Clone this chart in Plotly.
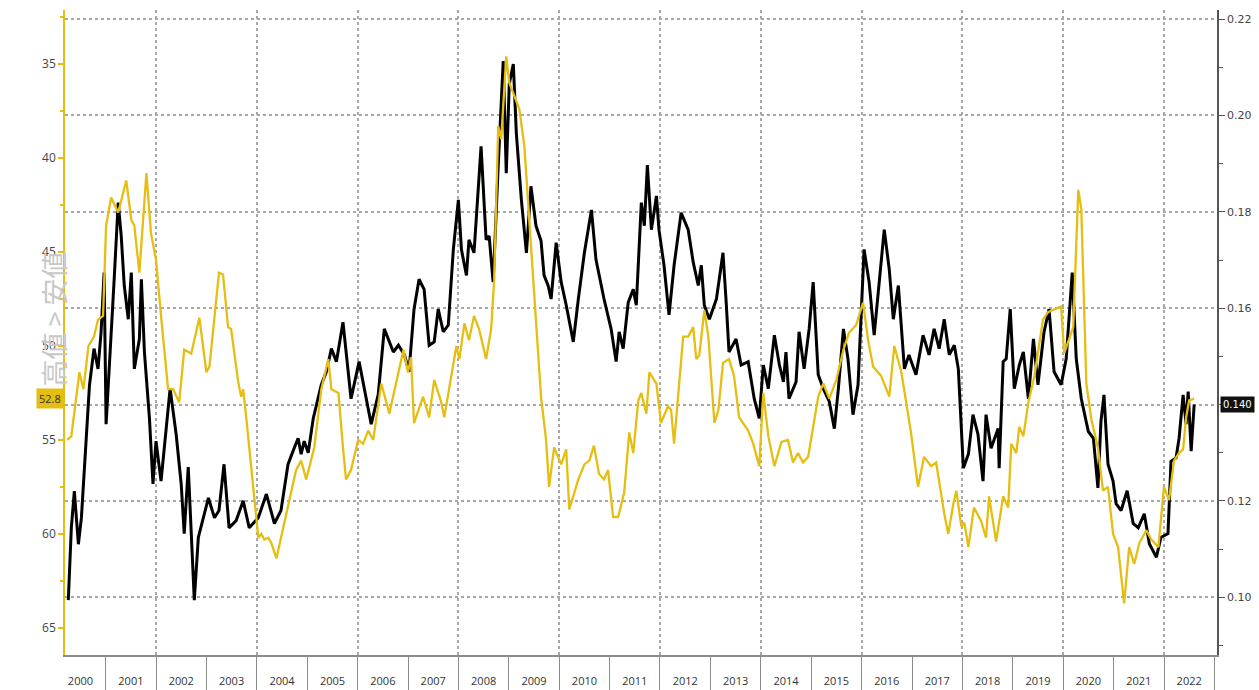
import plotly.graph_objects as go
import pandas as pd
import numpy as np

# yellow series (left axis, inverted) - time as years since 2000-01-01
yellow_t = [0.24, 0.32, 0.48, 0.56, 0.66, 0.77, 0.85, 0.95, 1.01, 1.11,
            1.25, 1.41, 1.51, 1.57, 1.67, 1.81, 1.90, 2.00, 2.10, 2.24,
            2.34, 2.46, 2.56, 2.70, 2.86, 3.00, 3.06, 3.19, 3.25, 3.33,
            3.43, 3.49, 3.63, 3.69, 3.73, 3.79, 3.93, 4.03, 4.09, 4.15,
            4.23, 4.29, 4.39, 4.52, 4.68, 4.78, 4.88, 4.98, 5.14, 5.28,
            5.42, 5.48, 5.62, 5.71, 5.77, 5.87, 6.01, 6.11, 6.21, 6.31,
            6.47, 6.63, 6.81, 6.91, 7.00, 7.06, 7.12, 7.30, 7.42, 7.52,
            7.66, 7.72, 7.96, 8.02, 8.12, 8.21, 8.31, 8.41, 8.55, 8.65,
            8.71, 8.79, 8.85, 8.95, 9.01, 9.11, 9.21, 9.31, 9.44, 9.64,
            9.74, 9.80, 9.90, 10.04, 10.14, 10.20, 10.38, 10.50, 10.60, 10.69,
            10.79, 10.89, 10.97, 11.07, 11.17, 11.29, 11.39, 11.47, 11.57, 11.63,
            11.73, 11.79, 11.93, 12.02, 12.16, 12.22, 12.28, 12.46, 12.56, 12.66,
            12.72, 12.78, 12.88, 12.96, 13.08, 13.16, 13.25, 13.37, 13.47, 13.57,
            13.75, 13.85, 13.97, 14.05, 14.15, 14.27, 14.41, 14.54, 14.64, 14.74,
            14.84, 14.94, 15.04, 15.14, 15.24, 15.36, 15.50, 15.64, 15.75, 15.89,
            16.03, 16.13, 16.23, 16.39, 16.55, 16.65, 16.79, 16.98, 17.12, 17.24,
            17.38, 17.48, 17.64, 17.72, 17.82, 17.88, 17.98, 18.04, 18.12, 18.23,
            18.37, 18.47, 18.53, 18.67, 18.81, 18.91, 18.97, 19.07, 19.13, 19.21,
            19.31, 19.43, 19.60, 19.70, 19.96, 20.02, 20.20, 20.30, 20.36, 20.46,
            20.56, 20.69, 20.79, 20.89, 20.99, 21.09, 21.21, 21.31, 21.41, 21.51,
            21.65, 21.75, 21.89, 22.00, 22.10, 22.20, 22.30, 22.38, 22.44, 22.50,
            22.60]
yellow_v = [55.0, 54.8, 51.4, 52.3, 50.0, 49.5, 48.6, 48.4, 43.6, 42.1,
            42.9, 41.2, 43.3, 43.6, 46.1, 40.8, 44.0, 45.4, 48.4, 52.3,
            52.3, 53.0, 50.2, 50.4, 48.5, 51.4, 51.1, 47.4, 46.1, 46.2,
            49.0, 49.1, 51.9, 52.7, 52.3, 53.8, 57.7, 60.2, 60.0, 60.3,
            60.2, 60.5, 61.3, 59.8, 57.8, 56.6, 56.1, 57.1, 55.4, 52.3,
            50.7, 52.3, 52.5, 55.4, 57.1, 56.6, 55.0, 55.2, 54.5, 55.0,
            52.0, 53.6, 51.3, 50.2, 51.4, 50.6, 54.1, 52.7, 53.8, 51.8,
            53.0, 53.8, 50.0, 50.7, 48.8, 49.7, 48.4, 49.1, 50.7, 49.1,
            46.5, 38.3, 39.0, 34.6, 36.0, 36.7, 37.4, 39.4, 44.7, 52.7,
            55.0, 57.5, 55.4, 56.3, 55.5, 58.7, 57.1, 56.3, 56.1, 55.3,
            56.8, 57.1, 56.6, 59.1, 59.1, 57.8, 54.6, 55.7, 52.9, 52.5,
            53.6, 51.4, 52.0, 54.1, 53.2, 53.4, 55.2, 49.5, 49.5, 49.0,
            50.7, 50.5, 48.1, 49.5, 54.1, 53.4, 50.9, 50.7, 51.6, 53.8,
            54.5, 55.2, 56.4, 52.5, 54.8, 56.4, 55.1, 55.0, 56.2, 55.7,
            56.2, 55.9, 54.3, 52.7, 52.0, 52.8, 51.8, 50.2, 49.3, 48.9,
            47.7, 49.7, 51.1, 51.6, 52.7, 50.0, 51.4, 54.6, 57.5, 55.9,
            56.4, 56.2, 58.9, 60.0, 58.4, 57.7, 59.6, 59.4, 60.7, 58.6,
            59.3, 60.2, 58.0, 60.4, 58.0, 58.6, 55.2, 55.7, 54.3, 54.8,
            53.0, 51.6, 48.6, 48.2, 47.9, 50.4, 49.0, 41.7, 42.7, 52.0,
            53.9, 55.4, 57.7, 57.5, 60.0, 60.7, 63.7, 60.7, 61.6, 60.5,
            59.8, 60.3, 60.7, 57.5, 58.2, 56.1, 55.7, 55.5, 53.8, 52.9,
            52.8]

# black series (right axis)
black_t = [0.26, 0.32, 0.38, 0.46, 0.52, 0.58, 0.68, 0.77, 0.85, 0.91,
           0.97, 1.01, 1.11, 1.17, 1.25, 1.31, 1.37, 1.45, 1.51, 1.57,
           1.67, 1.71, 1.77, 1.87, 1.94, 2.00, 2.10, 2.20, 2.28, 2.40,
           2.50, 2.56, 2.64, 2.76, 2.84, 2.94, 3.04, 3.16, 3.25, 3.35,
           3.45, 3.59, 3.73, 3.85, 4.03, 4.19, 4.35, 4.48, 4.62, 4.74,
           4.82, 4.88, 4.94, 5.02, 5.12, 5.28, 5.38, 5.48, 5.58, 5.71,
           5.81, 5.87, 6.03, 6.13, 6.27, 6.41, 6.53, 6.71, 6.81, 6.93,
           7.02, 7.12, 7.22, 7.32, 7.42, 7.52, 7.60, 7.70, 7.80, 7.90,
           8.00, 8.06, 8.16, 8.21, 8.31, 8.45, 8.55, 8.61, 8.69, 8.79,
           8.89, 8.95, 9.01, 9.09, 9.15, 9.25, 9.35, 9.44, 9.54, 9.64,
           9.70, 9.78, 9.84, 9.94, 10.04, 10.14, 10.28, 10.38, 10.50, 10.64,
           10.73, 10.89, 11.03, 11.13, 11.19, 11.27, 11.37, 11.47, 11.53, 11.63,
           11.69, 11.75, 11.83, 11.93, 11.98, 12.08, 12.18, 12.28, 12.42, 12.56,
           12.66, 12.76, 12.82, 12.88, 12.98, 13.12, 13.25, 13.31, 13.37, 13.51,
           13.61, 13.75, 13.87, 13.97, 14.05, 14.15, 14.27, 14.37, 14.45, 14.50,
           14.56, 14.70, 14.76, 14.86, 14.96, 15.04, 15.14, 15.24, 15.36, 15.46,
           15.54, 15.64, 15.73, 15.83, 15.93, 16.05, 16.15, 16.25, 16.35, 16.45,
           16.55, 16.63, 16.73, 16.85, 16.94, 17.08, 17.22, 17.34, 17.44, 17.54,
           17.64, 17.74, 17.84, 17.92, 18.02, 18.12, 18.21, 18.31, 18.41, 18.47,
           18.57, 18.71, 18.73, 18.81, 18.87, 18.95, 19.03, 19.13, 19.21, 19.31,
           19.41, 19.50, 19.62, 19.72, 19.82, 19.96, 20.06, 20.12, 20.18, 20.26,
           20.36, 20.50, 20.60, 20.69, 20.75, 20.81, 20.89, 20.99, 21.05, 21.15,
           21.27, 21.39, 21.49, 21.61, 21.71, 21.85, 21.94, 22.08, 22.14, 22.24,
           22.30, 22.38, 22.44, 22.48, 22.54, 22.60]
black_v = [0.0994, 0.1144, 0.1220, 0.1110, 0.1165, 0.1270, 0.1440, 0.1516, 0.1474, 0.1550,
           0.1674, 0.1359, 0.1536, 0.1660, 0.1819, 0.1750, 0.1647, 0.1577, 0.1674, 0.1474,
           0.1536, 0.1660, 0.1509, 0.1371, 0.1235, 0.1324, 0.1241, 0.1350, 0.1433, 0.1338,
           0.1235, 0.1132, 0.1270, 0.0994, 0.1124, 0.1165, 0.1206, 0.1165, 0.1180, 0.1276,
           0.1144, 0.1159, 0.1200, 0.1144, 0.1165, 0.1214, 0.1153, 0.1180, 0.1276, 0.1309,
           0.1330, 0.1297, 0.1324, 0.1300, 0.1371, 0.1441, 0.1468, 0.1516, 0.1489, 0.1571,
           0.1462, 0.1412, 0.1489, 0.1433, 0.1359, 0.1421, 0.1557, 0.1509, 0.1523, 0.1503,
           0.1468, 0.1598, 0.1660, 0.1639, 0.1523, 0.1530, 0.1598, 0.1551, 0.1565, 0.1722,
           0.1825, 0.1722, 0.1668, 0.1742, 0.1715, 0.1936, 0.1742, 0.1750, 0.1654, 0.1895,
           0.2113, 0.1880, 0.2066, 0.2107, 0.1963, 0.1825, 0.1715, 0.1853, 0.1771, 0.1740,
           0.1668, 0.1647, 0.1619, 0.1736, 0.1654, 0.1606, 0.1530, 0.1619, 0.1715, 0.1804,
           0.1701, 0.1619, 0.1557, 0.1489, 0.1551, 0.1516, 0.1612, 0.1639, 0.1606, 0.1819,
           0.1771, 0.1897, 0.1763, 0.1833, 0.1763, 0.1689, 0.1586, 0.1689, 0.1798, 0.1763,
           0.1695, 0.1647, 0.1689, 0.1606, 0.1577, 0.1619, 0.1715, 0.1619, 0.1509, 0.1536,
           0.1482, 0.1489, 0.1412, 0.1371, 0.1482, 0.1433, 0.1544, 0.1482, 0.1447, 0.1509,
           0.1412, 0.1447, 0.1551, 0.1474, 0.1557, 0.1654, 0.1462, 0.1433, 0.1406, 0.1350,
           0.1433, 0.1557, 0.1495, 0.1379, 0.1441, 0.1722, 0.1654, 0.1544, 0.1660, 0.1763,
           0.1680, 0.1577, 0.1647, 0.1474, 0.1503, 0.1462, 0.1544, 0.1503, 0.1557, 0.1516,
           0.1577, 0.1503, 0.1523, 0.1474, 0.1268, 0.1297, 0.1379, 0.1338, 0.1241, 0.1379,
           0.1309, 0.1350, 0.1268, 0.1489, 0.1495, 0.1598, 0.1433, 0.1482, 0.1509, 0.1412,
           0.1536, 0.1441, 0.1550, 0.1598, 0.1468, 0.1441, 0.1495, 0.1577, 0.1674, 0.1495,
           0.1412, 0.1344, 0.1330, 0.1227, 0.1365, 0.1420, 0.1276, 0.1241, 0.1194, 0.1180,
           0.1221, 0.1153, 0.1144, 0.1173, 0.1111, 0.1083, 0.1124, 0.1132, 0.1282, 0.1289,
           0.1330, 0.1420, 0.1359, 0.1427, 0.1303, 0.1400]

right_ticks = [0.10, 0.12, 0.14, 0.16, 0.18, 0.20, 0.22]
left_ticks = [35, 40, 45, 50, 55, 60, 65]
axis_title = "高値 > 安値"

YELLOW = "#E6BE12"
GRID = "#a8a8a8"

base = pd.Timestamp("2000-01-01")
def to_dates(t):
    return base + pd.to_timedelta(np.array(t) * 365.25, unit="D")

yellow_x = to_dates(yellow_t)
black_x = to_dates(black_t)
x_range = ["2000-03-12", "2023-01-20"]

# the last-value badge sits on top of the tick label it replaces
black_last = black_v[-1]
right_text = ["" if abs(v - black_last) < 0.005 else f"{v:.2f}" for v in right_ticks]

fig = go.Figure()

# black on right axis (base y), yellow on left axis overlaid so it draws on top
fig.add_trace(go.Scatter(x=black_x, y=black_v, mode="lines", yaxis="y", xaxis="x",
                         line=dict(color="#000000", width=3), showlegend=False))
fig.add_trace(go.Scatter(x=yellow_x, y=yellow_v, mode="lines", yaxis="y2", xaxis="x",
                         line=dict(color=YELLOW, width=2.3), showlegend=False))

fig.update_layout(
    width=1259, height=690,
    margin=dict(l=65, r=42, t=10, b=35),
    paper_bgcolor="white", plot_bgcolor="white",
    font=dict(family="Open Sans, Arial", color="#333"),
    xaxis=dict(
        type="date", range=x_range, dtick="M12", tick0="2000-01-01",
        tickformat="%Y", ticklabelmode="period", ticks="outside", ticklen=34,
        tickcolor="#8c8c8c", tickwidth=1, ticklabelstandoff=-19,
        showline=True, linecolor="#8c8c8c", linewidth=2, showgrid=False,
        tickfont=dict(size=11, color="#333"), automargin=False,
    ),
    xaxis2=dict(
        type="date", range=x_range, overlaying="x", anchor="y",
        dtick="M24", tick0="2000-01-01", showticklabels=False, ticks="",
        showgrid=True, gridcolor=GRID, griddash="dot", gridwidth=1.5,
        showline=False, automargin=False,
    ),
    yaxis=dict(
        side="right", range=[0.088, 0.2219],
        tickvals=right_ticks, ticktext=right_text,
        showgrid=True, gridcolor=GRID, griddash="dot",
        gridwidth=1.5, zeroline=False, showline=True, linecolor="#555",
        linewidth=1.5, ticks="outside", ticklen=6, tickcolor="#555",
        minor=dict(dtick=0.01, ticks="outside", ticklen=4, tickcolor="#555"),
        tickfont=dict(size=11, color="#444", family="DejaVu Sans"),
        automargin=False,
    ),
    yaxis2=dict(
        side="left", overlaying="y", range=[66.44, 32.13], tickvals=left_ticks,
        showgrid=False, zeroline=False, showline=True, linecolor=YELLOW,
        linewidth=1.5, ticks="outside", ticklen=5, tickwidth=2, tickcolor=YELLOW,
        minor=dict(dtick=2.5, ticks="outside", ticklen=3, tickcolor=YELLOW),
        tickfont=dict(size=12, color="#444"), automargin=False,
    ),
)

# an invisible trace so the grid axis is drawn
fig.add_trace(go.Scatter(x=[black_x[0]], y=[black_v[0]], xaxis="x2", yaxis="y",
                         mode="markers", marker=dict(opacity=0), showlegend=False,
                         hoverinfo="skip"))

# current-value badges
fig.add_annotation(x=1, xref="paper", y=black_last, yref="y", xanchor="left",
                   xshift=3, text=f"{black_last:.3f}", showarrow=False,
                   bgcolor="#111", font=dict(color="white", size=10, family="DejaVu Sans"),
                   borderpad=2)
fig.add_annotation(x=0, xref="paper", y=yellow_v[-1], yref="y2", xanchor="right",
                   xshift=-1, text=f"{yellow_v[-1]:.1f}", showarrow=False,
                   bgcolor=YELLOW, font=dict(color="#333", size=11),
                   borderpad=2)

# faded axis title
fig.add_annotation(x=0, xref="paper", xanchor="center", xshift=-11,
                   y=0.52, yref="paper", yanchor="middle",
                   text=axis_title, textangle=-90, showarrow=False,
                   font=dict(size=27, color="#c8c8c8", family="Noto Sans CJK JP"))

fig.write_html("out.html", config={"displayModeBar": False},
               post_script="document.body.style.margin='0';")
